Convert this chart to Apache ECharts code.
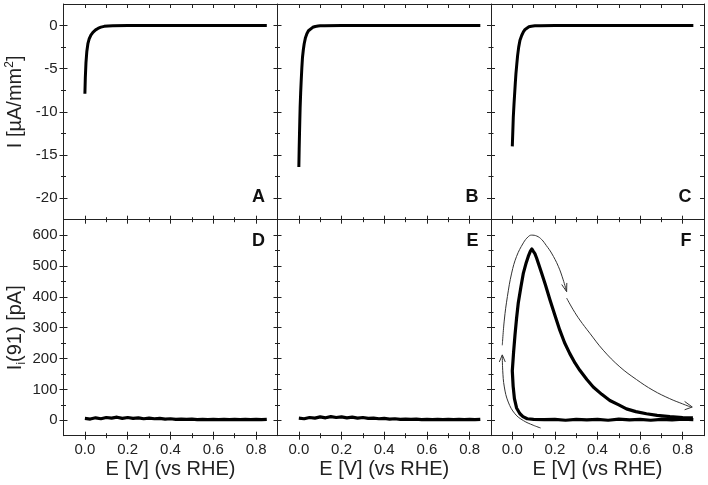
<!DOCTYPE html>
<html><head><meta charset="utf-8">
<script src="https://cdn.jsdelivr.net/npm/echarts@6/dist/echarts.min.js"></script>
<style>html,body{margin:0;padding:0;background:#fff}#c{width:708px;height:485px}</style>
</head><body><div id="c"></div>
<script>
// ---------- data ----------
const xMajorTicks = [0, 0.2, 0.4, 0.6, 0.8];
const xMinorTicks = [0.1, 0.3, 0.5, 0.7];
const topMajorTicks = [-20, -15, -10, -5, 0];
const topMinorTicks = [-17.5, -12.5, -7.5, -2.5];
const botMajorTicks = [0, 100, 200, 300, 400, 500, 600];
const botMinorTicks = [50, 150, 250, 350, 450, 550];
const panelLetters = ['A', 'B', 'C', 'D', 'E', 'F'];

const A_E = [0, 0.002, 0.005, 0.009, 0.014, 0.02, 0.028, 0.0375, 0.05, 0.061, 0.075, 0.09, 0.108, 0.13, 0.2, 0.4, 0.6, 0.85];
const A_I = [-7.9, -6.0, -4.3, -3.0, -2.1, -1.55, -1.1, -0.78, -0.5, -0.33, -0.18, -0.09, -0.04, -0.01, 0, 0, 0, 0];

const B_E = [0, 0.0015, 0.003, 0.0045, 0.006, 0.0085, 0.011, 0.014, 0.017, 0.021, 0.025, 0.031, 0.0375, 0.045, 0.053, 0.065, 0.077, 0.09, 0.1, 0.12, 0.2, 0.4, 0.6, 0.85];
const B_I = [-16.4, -14.3, -12.6, -11.0, -9.5, -7.8, -6.4, -4.9, -3.7, -2.8, -2.1, -1.4, -0.95, -0.6, -0.38, -0.2, -0.11, -0.06, -0.03, -0.01, 0, 0, 0, 0];

const C_E = [0, 0.0025, 0.0047, 0.008, 0.011, 0.014, 0.017, 0.021, 0.025, 0.03, 0.036, 0.044, 0.052, 0.06, 0.067, 0.078, 0.09, 0.106, 0.13, 0.2, 0.4, 0.6, 0.85];
const C_I = [-14.0, -12.2, -10.6, -9.1, -7.9, -6.7, -5.6, -4.5, -3.45, -2.5, -1.7, -1.15, -0.74, -0.45, -0.27, -0.14, -0.07, -0.03, -0.01, 0, 0, 0, 0];

const D_E = [0, 0.025, 0.05, 0.075, 0.1, 0.125, 0.15, 0.175, 0.2, 0.225, 0.25, 0.275, 0.3, 0.325, 0.35, 0.375, 0.4, 0.425, 0.45, 0.475, 0.5, 0.525, 0.55, 0.575, 0.6, 0.625, 0.65, 0.675, 0.7, 0.725, 0.75, 0.775, 0.8, 0.825, 0.85];
const D_I = [6, 4, 8, 5, 9, 7, 10, 6, 9, 6, 8, 5, 7, 5, 6, 4, 5, 3, 4, 3, 4, 2, 3, 2, 3, 2, 3, 2, 3, 2, 3, 2, 3, 2, 3];

const E_E = [0, 0.025, 0.05, 0.075, 0.1, 0.125, 0.15, 0.175, 0.2, 0.225, 0.25, 0.275, 0.3, 0.325, 0.35, 0.375, 0.4, 0.425, 0.45, 0.475, 0.5, 0.525, 0.55, 0.575, 0.6, 0.625, 0.65, 0.675, 0.7, 0.725, 0.75, 0.775, 0.8, 0.825, 0.85];
const E_I = [7, 5, 9, 7, 11, 8, 12, 9, 11, 8, 10, 7, 9, 6, 7, 5, 6, 4, 5, 3, 4, 3, 4, 2, 3, 2, 3, 2, 3, 2, 3, 2, 3, 2, 3];

const F_E = [0.85, 0.8, 0.75, 0.7, 0.65, 0.6, 0.55, 0.5, 0.45, 0.4, 0.35, 0.3, 0.25, 0.2, 0.15, 0.1, 0.07, 0.05, 0.035, 0.02, 0.01, 0.004, 0,
  0.006, 0.0125, 0.02, 0.028, 0.04, 0.052, 0.065, 0.075, 0.085, 0.092, 0.098, 0.106, 0.114, 0.125, 0.1375, 0.155, 0.177, 0.2, 0.223, 0.245, 0.27, 0.295, 0.317, 0.35, 0.38, 0.42, 0.458, 0.5, 0.536, 0.58, 0.63, 0.68, 0.74, 0.8, 0.848];
const F_I = [2, 4, 1, 3, 0, 3, 1, 4, 0, 3, 1, 3, 0, 3, 2, 3, 5, 12, 22, 40, 70, 110, 160,
  220, 275, 330, 380, 430, 477, 510, 531, 548, 555, 548, 540, 526, 503, 477, 440, 390, 340, 292, 252, 216, 185, 162, 132, 108, 84, 64, 50, 37, 28, 21, 16, 12, 9, 8];

// annotation arrows in panel F
const arrow1_E = [-0.047, -0.0375, -0.023, -0.003, 0.02, 0.052, 0.075, 0.09, 0.115, 0.1375, 0.16, 0.184, 0.216, 0.239, 0.255];
const arrow1_I = [243, 325, 401, 477, 531, 575, 595, 600, 597, 586, 566, 542, 499, 455, 417];
const head1_E = [0.232, 0.255, 0.256];
const head1_I = [440, 417, 445];
const arrow2_E = [0.255, 0.286, 0.317, 0.364, 0.427, 0.505, 0.583, 0.661, 0.739, 0.80, 0.841];
const arrow2_I = [396, 358, 325, 282, 227, 173, 132, 97, 70, 53, 42];
const head2_E = [0.809, 0.845, 0.809];
const head2_I = [61, 43, 34];
const arrow3_E = [0.133, 0.098, 0.052, 0.0125, -0.019, -0.0375, -0.045, -0.047];
const arrow3_I = [-25, -16, -1, 21, 59, 108, 162, 211];
const head3_E = [-0.061, -0.047, -0.033];
const head3_I = [189, 212, 189];

// ---------- layout ----------
const FONT = '"Liberation Sans", Arial, sans-serif';
const AX = '#222';
const colLeft = [63.5, 277.5, 491];
const colWidth = [214, 213.5, 213];
const rowTop = [4, 219.7];
const rowHeight = [215.7, 216];

const grids = [], xAxes = [], yAxes = [], series = [], titles = [];
const zip = (a, b) => a.map((v, i) => [v, b[i]]);

function addX(g, pos, vals, len, inside, line, extra) {
  xAxes.push(Object.assign({
    type: 'value', gridIndex: g, position: pos, min: -0.1, max: 0.9,
    axisLine: { show: line, onZero: false, lineStyle: { color: AX, width: 1 } },
    axisTick: { show: true, inside: inside, length: len, customValues: vals, lineStyle: { color: AX, width: 1 } },
    axisLabel: { show: false },
    splitLine: { show: false }
  }, extra || {}));
  return xAxes.length - 1;
}
function addY(g, pos, mn, mx, vals, len, inside, line, extra) {
  yAxes.push(Object.assign({
    type: 'value', gridIndex: g, position: pos, min: mn, max: mx,
    axisLine: { show: line, onZero: false, lineStyle: { color: AX, width: 1 } },
    axisTick: { show: true, inside: inside, length: len, customValues: vals, lineStyle: { color: AX, width: 1 } },
    axisLabel: { show: false },
    splitLine: { show: false }
  }, extra || {}));
  return yAxes.length - 1;
}

const panelData = [[A_E, A_I], [B_E, B_I], [C_E, C_I], [D_E, D_I], [E_E, E_I], [F_E, F_I]];

for (let r = 0; r < 2; r++) {
  for (let c = 0; c < 3; c++) {
    const g = grids.length;
    grids.push({ left: colLeft[c], top: rowTop[r], width: colWidth[c], height: rowHeight[r], outerBoundsMode: 'none', containLabel: false });
    const yMin = r === 0 ? -22.5 : -50, yMax = r === 0 ? 2.5 : 650;
    const yMaj = r === 0 ? topMajorTicks : botMajorTicks;
    const yMin2 = r === 0 ? topMinorTicks : botMinorTicks;

    // x bottom
    const xExtra = r === 1 ? {
      axisLabel: { show: true, customValues: xMajorTicks, formatter: v => v.toFixed(1), margin: 7, fontSize: 15, color: '#222', fontFamily: FONT },
      name: 'E [V] (vs RHE)', nameLocation: 'middle', nameGap: 24,
      nameTextStyle: { fontSize: 20, color: '#222', fontFamily: FONT }
    } : {};
    const xMain = addX(g, 'bottom', xMajorTicks, 4, true, true, xExtra);
    addX(g, 'bottom', xMajorTicks, 4, false, false);
    addX(g, 'bottom', xMinorTicks, 2.5, true, false);
    addX(g, 'bottom', xMinorTicks, 2.5, false, false);
    if (r === 0) {
      addX(g, 'top', xMajorTicks.concat(xMinorTicks), 4, true, true);
    }

    // y left
    let yExtra = {};
    if (c === 0) {
      yExtra = {
        axisLabel: { show: true, customValues: yMaj, margin: 6, fontSize: 15, color: '#222', fontFamily: FONT },
        nameLocation: 'middle', nameGap: 36, nameRotate: 90,
        name: r === 0 ? '{t|I [µA/mm}{sup|2}{t|]}' : '{t|I}{sub|i}{t|(91) [pA]}',
        nameTextStyle: {
          color: '#222', fontFamily: FONT,
          padding: r === 0 ? [0, 0, 0, 20] : [0, 0, 0, 0],
          rich: {
            t: { fontSize: 20, fontFamily: FONT, color: '#222', lineHeight: 24 },
            sup: { fontSize: 12, fontFamily: FONT, color: '#222', verticalAlign: 'top', lineHeight: 13 },
            sub: { fontSize: 12, fontFamily: FONT, color: '#222', verticalAlign: 'bottom', lineHeight: 13 }
          }
        }
      };
    }
    const yMain = addY(g, 'left', yMin, yMax, yMaj, 4, true, true, yExtra);
    addY(g, 'left', yMin, yMax, yMaj, 4, false, false);
    addY(g, 'left', yMin, yMax, yMin2, 2.5, true, false);
    addY(g, 'left', yMin, yMax, yMin2, 2.5, false, false);
    if (c === 2) {
      addY(g, 'right', yMin, yMax, yMaj.concat(yMin2), 4, true, true);
    }

    const pd = panelData[g];
    series.push({
      type: 'line', xAxisIndex: xMain, yAxisIndex: yMain, data: zip(pd[0], pd[1]),
      showSymbol: false, symbol: 'none', lineStyle: { width: r === 0 ? 3 : 3.2, color: '#000', join: 'round' },
      itemStyle: { color: '#000' }, silent: true, animation: false
    });
    if (g === 5) {
      [[arrow1_E, arrow1_I], [head1_E, head1_I], [arrow2_E, arrow2_I], [head2_E, head2_I], [arrow3_E, arrow3_I], [head3_E, head3_I]].forEach(a => {
        series.push({
          type: 'line', xAxisIndex: xMain, yAxisIndex: yMain, data: zip(a[0], a[1]),
          smooth: a[0].length > 3 ? 0.4 : false, clip: false,
          showSymbol: false, symbol: 'none', lineStyle: { width: 1, color: '#333' }, silent: true, animation: false
        });
      });
    }

    // panel letter
    const rightEdge = colLeft[c] + colWidth[c];
    titles.push({
      text: panelLetters[g], right: 708 - (rightEdge - 12.5),
      top: r === 0 ? rowTop[r] + rowHeight[r] - 32 : rowTop[r] + 12,
      padding: 0,
      textStyle: { fontSize: 18, fontWeight: 'bold', color: '#111', fontFamily: FONT }
    });
  }
}

const chart = echarts.init(document.getElementById('c'), null, { renderer: 'canvas' });
chart.setOption({
  animation: false,
  backgroundColor: '#fff',
  title: titles,
  grid: grids,
  xAxis: xAxes,
  yAxis: yAxes,
  series: series
});
</script></body></html>
